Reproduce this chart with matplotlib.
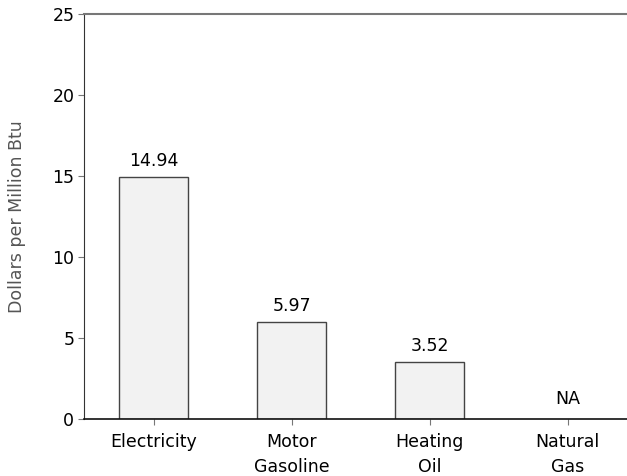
import matplotlib
matplotlib.use("Agg")
import matplotlib.pyplot as plt

plt.rcParams["font.family"] = ["DejaVu Sans"]

categories = ["Electricity", "Motor\nGasoline", "Heating\nOil", "Natural\nGas"]
values = [14.94, 5.97, 3.52, None]
labels = ["14.94", "5.97", "3.52", "NA"]
yticks = [0, 5, 10, 15, 20, 25]


def main():
    fig = plt.figure(figsize=(6.27, 4.76), dpi=100)
    ax = fig.add_axes([84 / 627, 57 / 476, 1 - 84 / 627, (419 - 14) / 476])

    xs = list(range(len(categories)))
    for x, v, lab in zip(xs, values, labels):
        if v is None:
            ax.annotate(lab, (x, 0), xytext=(0, 8), textcoords="offset points",
                        ha="center", va="bottom", fontsize=12.5)
            continue
        ax.bar(x, v, width=0.5, color="#f2f2f2", edgecolor="#444444", linewidth=1)
        ax.annotate(lab, (x, v), xytext=(0, 5), textcoords="offset points",
                    ha="center", va="bottom", fontsize=12.5)

    ax.set_xlim(-0.507, 3.43)
    ax.set_ylim(0, 25)
    ax.set_yticks(yticks)
    ax.set_xticks(xs)
    ax.set_xticklabels(categories, fontsize=12.5, linespacing=1.5)
    ax.tick_params(axis="y", labelsize=12.5, length=4, color="#777777", pad=3)
    ax.tick_params(axis="x", length=4, color="#777777", pad=6)

    ax.spines["right"].set_visible(False)
    ax.spines["top"].set_color("#777777")
    ax.spines["top"].set_linewidth(1.5)
    ax.spines["left"].set_color("#333333")
    ax.spines["bottom"].set_color("#111111")
    ax.spines["bottom"].set_linewidth(1.2)

    ax.set_ylabel("Dollars per Million Btu", fontsize=12.5, color="#555555", labelpad=19)

    fig.savefig("out.png", dpi=100)


if __name__ == "__main__":
    main()
